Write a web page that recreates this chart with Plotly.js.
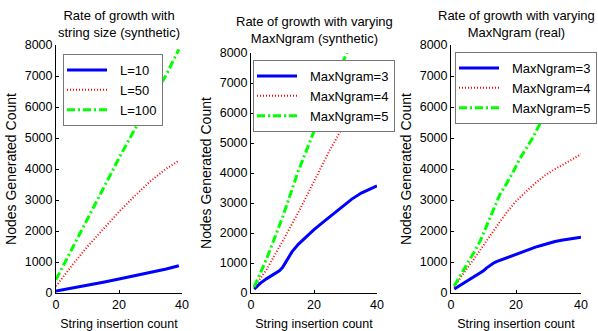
<!DOCTYPE html>
<html>
<head>
<meta charset="utf-8">
<script src="https://cdn.plot.ly/plotly-3.0.1.min.js"></script>
<style>html,body{margin:0;padding:0;background:#fff;}#chart{width:598px;height:331px;}</style>
</head>
<body>
<div id="chart"></div>
<script>
// ---------- Panel 1: growth with string size (synthetic) ----------
const p1Title = "Rate of growth with<br>string size (synthetic)";
const p1X = [0, 5, 10, 15, 20, 25, 30, 35, 39];
const p1L10 = [60, 150, 245, 345, 450, 555, 665, 775, 880];
const p1L50 = [220, 880, 1500, 2070, 2620, 3130, 3610, 4010, 4270];
const p1L100 = [430, 1420, 2400, 3380, 4350, 5280, 6180, 7040, 7860];
const p1Names = ["L=10", "L=50", "L=100"];

// ---------- Panel 2: varying MaxNgram (synthetic) ----------
const p2Title = "Rate of growth with varying<br>MaxNgram (synthetic)";
const p2X3 = [1, 3, 5, 7, 9, 10, 11, 12, 13, 15, 17, 20, 23, 26, 29, 32, 35, 38, 40];
const p2N3 = [130, 330, 480, 600, 740, 850, 1010, 1190, 1370, 1620, 1830, 2110, 2370, 2630, 2890, 3130, 3330, 3480, 3570];
const p2X45 = [1, 5, 10, 15, 20, 25, 30, 35, 40];
const p2N4 = [200, 790, 1720, 2680, 3720, 4760, 5700, 6500, 7200];
const p2N5 = [200, 1150, 2520, 4060, 5390, 6700, 7900, 9100, 10300];
const p2Names = ["MaxNgram=3", "MaxNgram=4", "MaxNgram=5"];

// ---------- Panel 3: varying MaxNgram (real) ----------
const p3Title = "Rate of growth with varying<br>MaxNgram (real)";
const p3X3 = [1, 3, 5, 7, 9, 10, 11, 12, 13, 14, 16, 18, 20, 22, 24, 26, 28, 30, 32, 34, 36, 38, 40];
const p3N3 = [130, 260, 380, 500, 640, 720, 810, 890, 960, 1010, 1090, 1170, 1250, 1320, 1400, 1480, 1540, 1610, 1660, 1700, 1740, 1770, 1800];
const p3X4 = [1, 3, 5, 7, 9, 11, 13, 15, 17, 20, 23, 26, 29, 32, 35, 38, 40];
const p3N4 = [200, 520, 800, 1090, 1400, 1690, 1990, 2290, 2580, 2960, 3260, 3550, 3800, 4000, 4170, 4370, 4480];
const p3X5 = [1, 3, 5, 7, 9, 11, 13, 15, 17, 19, 21, 23, 25, 27, 29, 32, 36, 40];
const p3N5 = [230, 580, 920, 1300, 1680, 2170, 2670, 3170, 3510, 3880, 4300, 4620, 4980, 5390, 5770, 6350, 7050, 7700];
const p3Names = ["MaxNgram=3", "MaxNgram=4", "MaxNgram=5"];

const xTicks = [0, 20, 40];
const yTicks = [0, 1000, 2000, 3000, 4000, 5000, 6000, 7000, 8000];
const xLabel = "String insertion count";
const yLabel = "Nodes Generated Count";

// ---------- styles ----------
const FONT = "Liberation Sans, Arial, sans-serif";
const styles = [
  {color: "#0000FF", width: 3, dash: "solid"},
  {color: "#FF0000", width: 2, dash: "1px,2px"},
  {color: "#00FF00", width: 3, dash: "8px,3px,2px,3px"}
];
function tr(x, y, name, k, ax, lg) {
  return {x: x, y: y, name: name, type: "scatter", mode: "lines",
    line: {color: styles[k].color, width: styles[k].width, dash: styles[k].dash},
    xaxis: "x" + (ax === 1 ? "" : ax), yaxis: "y" + (ax === 1 ? "" : ax),
    legend: lg, hoverinfo: "skip"};
}
const data = [
  tr(p1X, p1L10, p1Names[0], 0, 1, "legend"),
  tr(p1X, p1L50, p1Names[1], 1, 1, "legend"),
  tr(p1X, p1L100, p1Names[2], 2, 1, "legend"),
  tr(p2X3, p2N3, p2Names[0], 0, 2, "legend2"),
  tr(p2X45, p2N4, p2Names[1], 1, 2, "legend2"),
  tr(p2X45, p2N5, p2Names[2], 2, 2, "legend2"),
  tr(p3X3, p3N3, p3Names[0], 0, 3, "legend3"),
  tr(p3X4, p3N4, p3Names[1], 1, 3, "legend3"),
  tr(p3X5, p3N5, p3Names[2], 2, 3, "legend3")
];

const W = 598, H = 331;
function px(v) { return v / W; }
function py(v) { return 1 - v / H; }

function xa(l, r, anchor) {
  return {domain: [px(l), px(r)], anchor: anchor, range: [0, 40], tickvals: xTicks,
    showgrid: false, zeroline: false, showline: true, linecolor: "#000", linewidth: 1,
    ticks: "inside", ticklen: 3, tickcolor: "#000", mirror: false,
    tickfont: {family: FONT, size: 12.5, color: "#000"},
    title: {text: xLabel, font: {family: FONT, size: 12.5, color: "#000"}, standoff: 9}};
}
function ya(top, anchor) {
  return {domain: [py(293), py(top)], anchor: anchor, range: [0, 8000], tickvals: yTicks,
    showgrid: false, zeroline: false, showline: true, linecolor: "#000", linewidth: 1,
    ticks: "inside", ticklen: 3, tickcolor: "#000", mirror: false,
    tickfont: {family: FONT, size: 12.5, color: "#000"},
    title: {text: yLabel, font: {family: FONT, size: 14, color: "#000"}, standoff: 4}};
}
function lgd(x, y) {
  return {x: px(x), y: py(y), xanchor: "left", yanchor: "top", bgcolor: "#fff",
    bordercolor: "#777", borderwidth: 1, itemwidth: 46, tracegroupgap: 0,
    font: {family: FONT, size: 13, color: "#000"}, itemclick: false, itemdoubleclick: false};
}
function ttl(text, cx, cy) {
  return {text: text, x: px(cx), y: py(cy), xref: "paper", yref: "paper",
    xanchor: "center", yanchor: "middle", showarrow: false, align: "center",
    font: {family: FONT, size: 13, color: "#000"}};
}

const layout = {
  width: W, height: H, margin: {l: 0, r: 0, t: 0, b: 0, pad: 0},
  paper_bgcolor: "#fff", plot_bgcolor: "#fff", showlegend: true,
  xaxis: xa(56, 182, "y"), yaxis: ya(45, "x"),
  xaxis2: xa(251, 377, "y2"), yaxis2: ya(53, "x2"),
  xaxis3: xa(451, 581, "y3"), yaxis3: ya(45, "x3"),
  legend: lgd(63, 54), legend2: lgd(253, 60), legend3: lgd(455, 52),
  annotations: [ttl(p1Title, 119, 23.5), ttl(p2Title, 314, 30), ttl(p3Title, 516, 23.5)]
};
Plotly.newPlot("chart", data, layout, {staticPlot: true, displayModeBar: false}).then(function () {
  // lengthen the legend line samples to match the reference's 40px samples
  document.querySelectorAll(".legendlines path").forEach(function (p) {
    p.setAttribute("d", "M3,0h40");
  });
});
</script>
</body>
</html>
